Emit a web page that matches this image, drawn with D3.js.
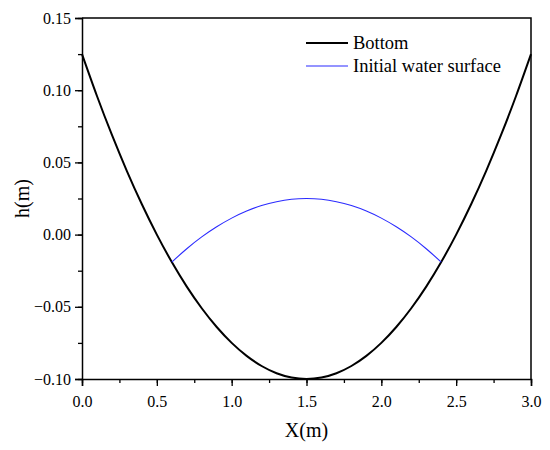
<!DOCTYPE html>
<html>
<head>
<meta charset="utf-8">
<script src="https://cdn.jsdelivr.net/npm/d3@7"></script>
<style>
  body { margin: 0; background: #fff; }
  text { font-family: "Liberation Serif", "Times New Roman", serif; fill: #000; }
</style>
</head>
<body>
<script>
// values
var bottomX = [0.0, 0.1, 0.2, 0.3, 0.4, 0.5, 0.6, 0.7, 0.8, 0.9, 1.0, 1.1, 1.2, 1.3, 1.4, 1.5,
               1.6, 1.7, 1.8, 1.9, 2.0, 2.1, 2.2, 2.3, 2.4, 2.5, 2.6, 2.7, 2.8, 2.9, 3.0];
var bottomH = [0.125, 0.096, 0.069, 0.044, 0.021, 0.000, -0.019, -0.036, -0.051, -0.064, -0.075,
               -0.084, -0.091, -0.096, -0.099, -0.100, -0.099, -0.096, -0.091, -0.084, -0.075,
               -0.064, -0.051, -0.036, -0.019, 0.000, 0.021, 0.044, 0.069, 0.096, 0.125];

var waterX = [0.6, 0.7, 0.8, 0.9, 1.0, 1.1, 1.2, 1.3, 1.4, 1.5, 1.6, 1.7, 1.8, 1.9, 2.0, 2.1, 2.2, 2.3, 2.4];
var waterH = [-0.019, -0.0098, -0.0016, 0.0054, 0.0114, 0.0163, 0.0201, 0.0228, 0.0245, 0.025,
              0.0245, 0.0228, 0.0201, 0.0163, 0.0114, 0.0054, -0.0016, -0.0098, -0.019];

var xTicks = [0.0, 0.5, 1.0, 1.5, 2.0, 2.5, 3.0];
var yTicks = [-0.10, -0.05, 0.00, 0.05, 0.10, 0.15];
var seriesNames = ["Bottom", "Initial water surface"];

var width = 550, height = 450;
var margin = {left: 82, top: 18, right: 19, bottom: 71};

var svg = d3.select("body").append("svg")
    .attr("width", width)
    .attr("height", height);

var x = d3.scaleLinear().domain([0, 3]).range([margin.left, width - margin.right]);
var y = d3.scaleLinear().domain([-0.1, 0.15]).range([height - margin.bottom, margin.top]);

function fmt(v) {
    return d3.format(".2f")(v).replace("-", "\u2212");
}

// makes the axis text serif like the rest
function serif(g) {
    g.attr("font-family", "Liberation Serif").attr("font-size", 16);
    g.selectAll(".tick line").attr("stroke", "#000").attr("stroke-width", 1.3);
    g.select(".domain").attr("stroke", "#000").attr("stroke-width", 1.5);
}

// x axis with minor ticks
var xMinor = d3.range(0, 3.001, 0.25);
svg.append("g")
    .attr("transform", "translate(0," + y(-0.1) + ")")
    .call(d3.axisBottom(x).tickValues(xMinor).tickSize(4).tickFormat(""))
    .call(serif)
    .call(function(g){ g.select(".domain").remove(); });
svg.append("g")
    .attr("transform", "translate(0," + y(-0.1) + ")")
    .call(d3.axisBottom(x).tickValues(xTicks).tickSize(7).tickPadding(10).tickFormat(d3.format(".1f")))
    .call(serif);

// y axis with minor ticks
var yMinor = d3.range(-0.1, 0.1501, 0.025);
svg.append("g")
    .attr("transform", "translate(" + x(0) + ",0)")
    .call(d3.axisLeft(y).tickValues(yMinor).tickSize(4).tickFormat(""))
    .call(serif)
    .call(function(g){ g.select(".domain").remove(); });
svg.append("g")
    .attr("transform", "translate(" + x(0) + ",0)")
    .call(d3.axisLeft(y).tickValues(yTicks).tickSize(7).tickPadding(4).tickFormat(fmt))
    .call(serif);

// frame on top and right
svg.append("path")
    .attr("d", "M" + x(0) + "," + y(0.15) + "H" + x(3) + "V" + y(-0.1))
    .attr("fill", "none")
    .attr("stroke", "#000")
    .attr("stroke-width", 1.5);

var line = d3.line().curve(d3.curveNatural);

svg.append("path")
    .datum(bottomX.map(function(d, i){ return [x(d), y(bottomH[i])]; }))
    .attr("d", line)
    .attr("fill", "none")
    .attr("stroke", "#000")
    .attr("stroke-width", 2);

svg.append("path")
    .datum(waterX.map(function(d, i){ return [x(d), y(waterH[i])]; }))
    .attr("d", line)
    .attr("fill", "none")
    .attr("stroke", "#2b2bff")
    .attr("stroke-width", 1.1);

// axis titles
svg.append("text")
    .attr("x", (x(0) + x(3)) / 2)
    .attr("y", 437)
    .attr("text-anchor", "middle")
    .style("font-size", "20px")
    .text("X(m)");

svg.append("text")
    .attr("transform", "translate(29," + (y(-0.1) + y(0.15)) / 2 + ") rotate(-90)")
    .attr("text-anchor", "middle")
    .style("font-size", "20px")
    .text("h(m)");

// legend
var legendColors = ["#000", "#2b2bff"];
var legendWidths = [2, 1.1];
var legend = svg.selectAll(".legend")
    .data(seriesNames)
    .enter().append("g")
    .attr("class", "legend")
    .attr("transform", function(d, i){ return "translate(306," + (43 + i * 23) + ")"; });
legend.append("line")
    .attr("x1", 0).attr("x2", 42)
    .attr("stroke", function(d, i){ return legendColors[i]; })
    .attr("stroke-width", function(d, i){ return legendWidths[i]; });
legend.append("text")
    .attr("x", 47)
    .attr("y", 6)
    .style("font-size", "18.5px")
    .text(function(d){ return d; });
</script>
</body>
</html>
